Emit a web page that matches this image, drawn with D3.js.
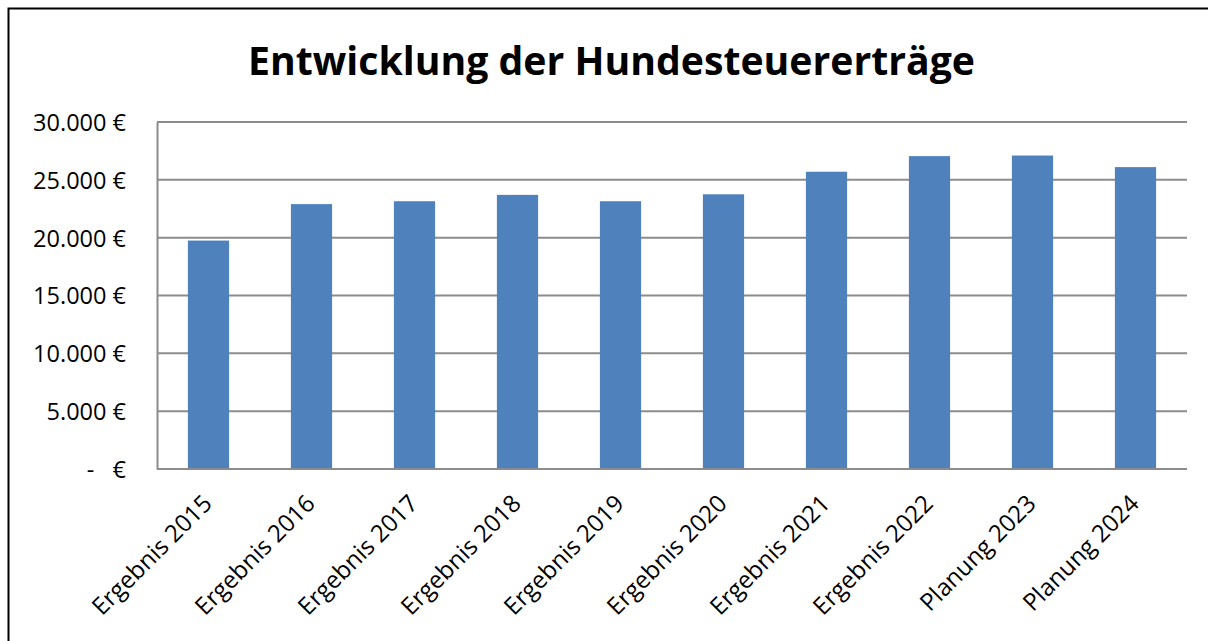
<!DOCTYPE html>
<html>
<head>
<meta charset="utf-8">
<script src="https://cdn.jsdelivr.net/npm/d3@7"></script>
<style>
  html, body { margin: 0; padding: 0; background: #fff; }
  svg text { font-family: "Open Sans", "Noto Sans", sans-serif; fill: #000; }
</style>
</head>
<body>
<div id="chart"></div>
<script>
// Hundesteuer values (EUR)
const categories = ['Ergebnis 2015', 'Ergebnis 2016', 'Ergebnis 2017', 'Ergebnis 2018', 'Ergebnis 2019',
                    'Ergebnis 2020', 'Ergebnis 2021', 'Ergebnis 2022', 'Planung 2023', 'Planung 2024'];
const values = [19750, 22900, 23150, 23700, 23150, 23750, 25700, 27050, 27100, 26100];
const yTicks = [0, 5000, 10000, 15000, 20000, 25000, 30000];
const titleText = 'Entwicklung der Hundesteuererträge';

(function() {
    const W = 1208, H = 641;
    const plot = {left: 157, right: 1187, top: 122, bottom: 469};

    const svg = d3.select('#chart').append('svg')
        .attr('width', W)
        .attr('height', H);

    // frame (only top and left edges are visible in the crop)
    svg.append('path')
        .attr('d', `M8.5,${H} L8.5,8.5 L${W},8.5`)
        .attr('fill', 'none')
        .attr('stroke', '#000')
        .attr('stroke-width', 2);

    // Title
    svg.append('text')
        .attr('x', 611.5)
        .attr('y', 75)
        .attr('text-anchor', 'middle')
        .style('font-size', '39px')
        .style('font-weight', 'bold')
        .attr('textLength', 727)
        .attr('lengthAdjust', 'spacingAndGlyphs')
        .text(titleText);

    const x = d3.scaleBand()
        .domain(categories)
        .range([plot.left, plot.right])
        .paddingInner(0.6)
        .paddingOuter(0.3);

    const y = d3.scaleLinear()
        .domain([0, 30000])
        .range([plot.bottom, plot.top]);

    const fmt = v => v === 0 ? '-   €' : d3.format(',')(v).replace(/,/g, '.') + ' €';

    // gridlines
    svg.append('g')
        .selectAll('line')
        .data(yTicks.filter(d => d > 0))
        .enter()
        .append('line')
        .attr('x1', plot.left)
        .attr('x2', plot.right)
        .attr('y1', d => y(d))
        .attr('y2', d => y(d))
        .attr('stroke', '#8c8c8c')
        .attr('stroke-width', 2);

    // y axis
    const yAxis = svg.append('g')
        .attr('transform', `translate(${plot.left},0)`)
        .call(d3.axisLeft(y).tickValues(yTicks).tickFormat(fmt).tickSize(0).tickPadding(31));
    yAxis.select('.domain').attr('stroke', '#8c8c8c').attr('stroke-width', 2);
    yAxis.selectAll('text')
        .style('font-size', '23.5px')
        .style('white-space', 'pre')
        .attr('dy', '0.36em');

    // bars
    svg.selectAll('.bar')
        .data(values)
        .enter()
        .append('rect')
        .attr('class', 'bar')
        .attr('x', (d, i) => x(categories[i]))
        .attr('y', d => y(d))
        .attr('width', x.bandwidth())
        .attr('height', d => y(0) - y(d))
        .attr('fill', '#4f81bd');

    // x axis
    const xAxis = svg.append('g')
        .attr('transform', `translate(0,${plot.bottom})`)
        .call(d3.axisBottom(x).tickSize(0).tickPadding(0));
    xAxis.select('.domain')
        .attr('d', `M${plot.left},0H${plot.right}`)
        .attr('stroke', '#8c8c8c')
        .attr('stroke-width', 2);
    xAxis.selectAll('.tick text')
        .style('font-size', '24px')
        .attr('text-anchor', 'end')
        .attr('dy', 0)
        .attr('y', 0)
        .attr('transform', 'translate(5,36) rotate(-45)');
})();
</script>
</body>
</html>
